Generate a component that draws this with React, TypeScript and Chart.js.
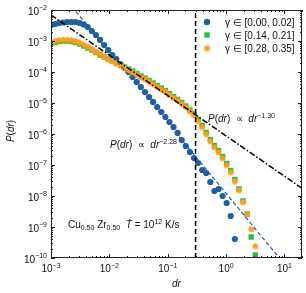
import React, { useEffect, useRef } from "react";
import { Chart, registerables } from "chart.js";

Chart.register(...registerables);

// ---- data ----
const drValues = [
  0.001, 0.001175, 0.00138, 0.001622, 0.001905, 0.002239, 0.00263, 0.00309, 0.003631, 0.004266,
  0.005012, 0.005888, 0.006918, 0.008128, 0.00955, 0.01122, 0.01318, 0.01549, 0.0182, 0.02138,
  0.02512, 0.02951, 0.03467, 0.04074, 0.04786, 0.05623, 0.06607, 0.07762, 0.0912, 0.1072,
  0.1259, 0.1479, 0.1738, 0.2042, 0.2399, 0.2818, 0.3311, 0.389, 0.4571, 0.537,
  0.631, 0.7413, 0.871, 1.023, 1.202, 1.413, 1.66, 1.95, 2.291, 2.692, 3.162,
];

const pBlue = [
  3.28e-3, 3.53e-3, 3.81e-3, 3.95e-3, 4.1e-3, 4.1e-3, 4.1e-3, 3.81e-3, 3.4e-3, 2.83e-3,
  2.1e-3, 1.56e-3, 1.08e-3, 7.43e-4, 5.13e-4, 3.53e-4, 2.62e-4, 1.81e-4, 1.35e-4, 1.0e-4,
  6.9e-5, 4.75e-5, 3.28e-5, 2.26e-5, 1.56e-5, 1.08e-5, 7.43e-6, 5.13e-6, 3.53e-6, 2.44e-6,
  1.68e-6, 1.08e-6, 6.4e-7, 4.1e-7, 2.62e-7, 1.68e-7, 1.16e-7, 6.9e-8, 5.52e-8, 2.83e-8,
  1.45e-8, 1.68e-8, 1.0e-8, 5.94e-9, 2.26e-9, 4.1e-10,
];

const pGreen = [
  8.3e-4, 8.95e-4, 9.64e-4, 1.0e-3, 1.0e-3, 9.64e-4, 8.95e-4, 8.0e-4, 6.9e-4, 5.94e-4,
  5.13e-4, 4.26e-4, 3.53e-4, 3.05e-4, 2.62e-4, 2.26e-4, 1.95e-4, 1.68e-4, 1.45e-4, 1.25e-4,
  1.08e-4, 8.95e-5, 7.43e-5, 6.4e-5, 5.32e-5, 4.42e-5, 3.67e-5, 3.05e-5, 2.53e-5, 2.02e-5,
  1.62e-5, 1.3e-5, 1.04e-5, 8.0e-6, 5.94e-6, 4.42e-6, 2.94e-6, 1.88e-6, 1.12e-6, 6.65e-7,
  4.26e-7, 2.94e-7, 1.88e-7, 1.12e-7, 6.65e-8, 3.4e-8, 1.68e-8, 6.9e-9, 2.62e-9, 4.75e-10,
  1.25e-10,
];

const pOrange = [
  9.29e-4, 1.0e-3, 1.08e-3, 1.12e-3, 1.12e-3, 1.08e-3, 1.0e-3, 8.95e-4, 7.71e-4, 6.65e-4,
  5.52e-4, 4.58e-4, 3.81e-4, 3.16e-4, 2.62e-4, 2.26e-4, 1.95e-4, 1.62e-4, 1.4e-4, 1.16e-4,
  1.0e-4, 8.3e-5, 6.9e-5, 5.94e-5, 4.94e-5, 4.1e-5, 3.4e-5, 2.83e-5, 2.35e-5, 1.88e-5,
  1.5e-5, 1.2e-5, 9.64e-6, 7.43e-6, 5.52e-6, 4.1e-6, 2.62e-6, 1.68e-6, 1.0e-6, 5.94e-7,
  3.81e-7, 2.62e-7, 1.68e-7, 1.0e-7, 5.94e-8, 3.05e-8, 1.56e-8, 6.4e-9, 2.62e-9, 8.62e-10,
  2.44e-10,
];

const seriesLabels = ["γ ∈ [0.00, 0.02]", "γ ∈ [0.14, 0.21]", "γ ∈ [0.28, 0.35]"];
const seriesColors = ["#1f5fa6", "#22c040", "#ff9c1a"];

// power-law guide lines  P = amp * dr^exp
const steepExp = -2.28;
const steepAmp = 1.21e-8;
const shallowExp = -1.3;
const shallowAmp = 8.7e-7;
const crossoverDr = 0.3;

const xMin = 1e-3;
const xMax = 20;
const yMin = 1e-10;
const yMax = 1e-2;
const xTickExps = [-3, -2, -1, 0, 1];
const yTickExps = [-2, -3, -4, -5, -6, -7, -8, -9, -10];

const FONT = '"Liberation Sans", Arial, Helvetica, sans-serif';

type Seg = { t: string; it?: boolean; sup?: boolean; sub?: boolean };

function drawRich(ctx: CanvasRenderingContext2D, segs: Seg[], x: number, y: number, size: number, measureOnly = false) {
  let cx = x;
  for (const s of segs) {
    const sz = s.sup || s.sub ? size * 0.7 : size;
    ctx.font = `${s.it ? "italic " : ""}${sz}px ${FONT}`;
    const dy = s.sup ? -size * 0.42 : s.sub ? size * 0.22 : 0;
    if (!measureOnly) ctx.fillText(s.t, cx, y + dy);
    cx += ctx.measureText(s.t).width;
  }
  return cx - x;
}

function supStr(n: number) {
  return n < 0 ? "\u2212" + Math.abs(n) : String(n);
}

function makePentagon(color: string, r: number) {
  const c = document.createElement("canvas");
  const s = Math.ceil(r * 2 + 2);
  c.width = s;
  c.height = s;
  const g = c.getContext("2d")!;
  g.fillStyle = color;
  g.beginPath();
  for (let i = 0; i < 5; i++) {
    const a = -Math.PI / 2 + (i * 2 * Math.PI) / 5;
    const px = s / 2 + r * Math.cos(a);
    const py = s / 2 + r * Math.sin(a) + 0.3;
    if (i === 0) g.moveTo(px, py);
    else g.lineTo(px, py);
  }
  g.closePath();
  g.fill();
  return c;
}

export default function App() {
  const ref = useRef<HTMLCanvasElement>(null);

  useEffect(() => {
    const canvas = ref.current!;
    const pent = makePentagon(seriesColors[2], 3.4);

    const decor = {
      id: "decor",
      afterDraw(chart: any) {
        const ctx: CanvasRenderingContext2D = chart.ctx;
        const { left, right, top, bottom } = chart.chartArea;
        const xs = chart.scales.x;
        const ys = chart.scales.y;
        ctx.save();
        ctx.strokeStyle = "#222";
        ctx.fillStyle = "#222";
        ctx.lineWidth = 1;
        // frame
        ctx.strokeRect(left + 0.5, top + 0.5, right - left - 1, bottom - top - 1);
        // ticks
        ctx.beginPath();
        for (let d = -3; d <= 1; d++) {
          for (let m = 1; m <= 9; m++) {
            const v = m * Math.pow(10, d);
            if (v < xMin || v > xMax) continue;
            const px = Math.round(xs.getPixelForValue(v)) + 0.5;
            const len = m === 1 ? 4 : 2;
            ctx.moveTo(px, bottom);
            ctx.lineTo(px, bottom - len);
            ctx.moveTo(px, top);
            ctx.lineTo(px, top + len);
          }
        }
        for (let d = -10; d <= -2; d++) {
          for (let m = 1; m <= 9; m++) {
            const v = m * Math.pow(10, d);
            if (v < yMin * 0.999 || v > yMax * 1.001) continue;
            const py = Math.round(ys.getPixelForValue(v)) + 0.5;
            const len = m === 1 ? 4 : 2;
            ctx.moveTo(left, py);
            ctx.lineTo(left + len, py);
            ctx.moveTo(right, py);
            ctx.lineTo(right - len, py);
          }
        }
        ctx.stroke();

        ctx.fillStyle = "#111";
        ctx.textAlign = "left";
        ctx.textBaseline = "alphabetic";
        // x tick labels
        for (const e of xTickExps) {
          const px = xs.getPixelForValue(Math.pow(10, e));
          const segs: Seg[] = [{ t: "10" }, { t: supStr(e), sup: true }];
          const w = drawRich(ctx, segs, 0, 0, 10, true);
          drawRich(ctx, segs, px - w / 2, 272, 10);
        }
        // y tick labels
        for (const e of yTickExps) {
          const py = ys.getPixelForValue(Math.pow(10, e));
          const segs: Seg[] = [{ t: "10" }, { t: supStr(e), sup: true }];
          const w = drawRich(ctx, segs, 0, 0, 10, true);
          drawRich(ctx, segs, left - 4 - w, py + 4.5, 10);
        }
        // axis titles
        const xt: Seg[] = [{ t: "dr", it: true }];
        const wx = drawRich(ctx, xt, 0, 0, 10, true);
        drawRich(ctx, xt, (left + right) / 2 - wx / 2, 287, 10);
        const yt: Seg[] = [{ t: "P", it: true }, { t: "(" }, { t: "dr", it: true }, { t: ")" }];
        const wy = drawRich(ctx, yt, 0, 0, 10, true);
        ctx.save();
        ctx.translate(14, 131);
        ctx.rotate(-Math.PI / 2);
        drawRich(ctx, yt, -wy / 2, 0, 10);
        ctx.restore();

        // annotations
        drawRich(
          ctx,
          [{ t: "P", it: true }, { t: "(" }, { t: "dr", it: true }, { t: ")  \u221D  " }, { t: "dr", it: true }, { t: supStr(shallowExp).replace(/(\.\d)$/, "$10"), sup: true }],
          208, 122, 10
        );
        drawRich(
          ctx,
          [{ t: "P", it: true }, { t: "(" }, { t: "dr", it: true }, { t: ")  \u221D  " }, { t: "dr", it: true }, { t: supStr(steepExp), sup: true }],
          110, 148, 10
        );
        drawRich(
          ctx,
          [
            { t: "Cu" }, { t: "0.50", sub: true }, { t: " Zr" }, { t: "0.50", sub: true },
            { t: "  " }, { t: "\u1E6A", it: true }, { t: " = 10" }, { t: "12", sup: true }, { t: " K/s" },
          ],
          68, 228, 10
        );

        // legend
        const lx = 207;
        const ly = [22, 35, 48];
        ctx.fillStyle = seriesColors[0];
        ctx.beginPath();
        ctx.arc(lx, ly[0], 3.2, 0, Math.PI * 2);
        ctx.fill();
        ctx.fillStyle = seriesColors[1];
        ctx.fillRect(lx - 2.7, ly[1] - 2.7, 5.4, 5.4);
        ctx.drawImage(pent, lx - pent.width / 2, ly[2] - pent.height / 2);
        ctx.fillStyle = "#111";
        for (let i = 0; i < 3; i++) {
          drawRich(ctx, [{ t: seriesLabels[i] }], 225, ly[i] + 3.5, 10);
        }
        ctx.restore();
      },
    };

    const pts = (ys: number[]) => ys.map((y, i) => ({ x: drValues[i], y }));
    const lineEnds = [xMin, xMax];

    const chart = new Chart(canvas, {
      type: "scatter",
      data: {
        datasets: [
          {
            label: "steep",
            type: "line",
            data: lineEnds.map((x) => ({ x, y: steepAmp * Math.pow(x, steepExp) })),
            borderColor: seriesColors[0],
            borderWidth: 1.2,
            borderDash: [4, 2.5],
            pointRadius: 0,
            fill: false,
            order: 0,
          },
          {
            label: "shallow",
            type: "line",
            data: lineEnds.map((x) => ({ x, y: shallowAmp * Math.pow(x, shallowExp) })),
            borderColor: "#000",
            borderWidth: 1.5,
            borderDash: [6, 2, 1.5, 2],
            pointRadius: 0,
            fill: false,
            order: 0,
          },
          {
            label: "cross",
            type: "line",
            data: [{ x: crossoverDr, y: yMin }, { x: crossoverDr, y: yMax }],
            borderColor: "#000",
            borderWidth: 1.5,
            borderDash: [5, 3],
            pointRadius: 0,
            fill: false,
            order: 0,
          },
          {
            label: seriesLabels[2],
            data: pts(pOrange),
            pointStyle: pent as any,
            pointRadius: 3.4,
            backgroundColor: seriesColors[2],
            borderWidth: 0,
            order: 1,
          },
          {
            label: seriesLabels[1],
            data: pts(pGreen),
            pointStyle: "rect",
            pointRadius: 3.8,
            backgroundColor: seriesColors[1],
            borderWidth: 0,
            order: 2,
          },
          {
            label: seriesLabels[0],
            data: pts(pBlue),
            pointStyle: "circle",
            pointRadius: 3.1,
            backgroundColor: seriesColors[0],
            borderWidth: 0,
            order: 3,
          },
        ],
      },
      options: {
        responsive: false,
        animation: false,
        devicePixelRatio: 1,
        layout: { padding: { left: 51, top: 10, right: 4, bottom: 35 } },
        plugins: { legend: { display: false }, tooltip: { enabled: false } },
        scales: {
          x: { type: "logarithmic", min: xMin, max: xMax, display: false },
          y: { type: "logarithmic", min: yMin, max: yMax, display: false },
        },
      },
      plugins: [decor],
    });
    return () => chart.destroy();
  }, []);

  return (
    <div style={{ position: "fixed", left: 0, top: 0, width: 306, height: 293, background: "#fff" }}>
      <canvas ref={ref} width={306} height={293} style={{ display: "block" }} />
    </div>
  );
}
